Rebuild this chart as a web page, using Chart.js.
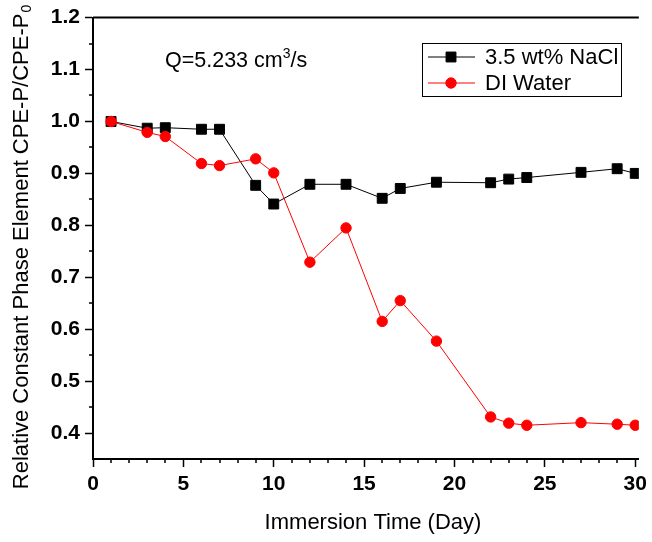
<!DOCTYPE html>
<html>
<head>
<meta charset="utf-8">
<script src="https://cdn.jsdelivr.net/npm/chart.js@4/dist/chart.umd.min.js"></script>
<style>
  html, body { margin: 0; padding: 0; background: #fff; }
  canvas { display: block; }
</style>
</head>
<body>
<canvas id="c" width="652" height="542"></canvas>
<script>
// Immersion days at which CPE-P was measured
const days = [1, 3, 4, 6, 7, 9, 10, 12, 14, 16, 17, 19, 22, 23, 24, 27, 29, 30];

// Relative CPE-P / CPE-P0 for each electrolyte
const naclValues    = [1.000, 0.987, 0.988, 0.985, 0.985, 0.877, 0.841, 0.879, 0.879, 0.852, 0.871, 0.883, 0.882, 0.889, 0.892, 0.902, 0.909, 0.900];
const diWaterValues = [1.000, 0.979, 0.971, 0.919, 0.915, 0.928, 0.901, 0.729, 0.795, 0.615, 0.655, 0.577, 0.431, 0.419, 0.415, 0.420, 0.417, 0.415];

const seriesLabels = ['3.5 wt% NaCl', 'DI Water'];

// Axis ticks
const xTicks      = [0, 5, 10, 15, 20, 25, 30];
const xMinorTicks = [1, 2, 3, 4, 6, 7, 8, 9, 11, 12, 13, 14, 16, 17, 18, 19, 21, 22, 23, 24, 26, 27, 28, 29];
const yTicks      = [0.4, 0.5, 0.6, 0.7, 0.8, 0.9, 1.0, 1.1, 1.2];
const yMinorTicks = [0.45, 0.55, 0.65, 0.75, 0.85, 0.95, 1.05, 1.15];

const xTitle = 'Immersion Time (Day)';
const yTitle = 'Relative Constant Phase Element CPE-P/CPE-P';
const yTitleSub = '0';
const noteMain = 'Q=5.233 cm';
const noteSup = '3';
const noteTail = '/s';

const FONT = "'Liberation Sans', Arial, Helvetica, sans-serif";

const toPoints = vals => days.map((d, i) => ({ x: d, y: vals[i] }));

// Top frame line, minor ticks, titles, note and boxed legend
const decorations = {
  id: 'decorations',
  afterDraw(chart) {
    const { ctx, chartArea: a, scales: { x, y } } = chart;
    ctx.save();
    ctx.strokeStyle = '#000';
    ctx.fillStyle = '#000';

    // top border line
    ctx.lineWidth = 2;
    ctx.beginPath();
    ctx.moveTo(a.left, a.top);
    ctx.lineTo(a.right, a.top);
    ctx.stroke();

    // minor ticks (outward)
    ctx.lineWidth = 1.5;
    ctx.beginPath();
    xMinorTicks.forEach(v => {
      const px = Math.round(x.getPixelForValue(v));
      ctx.moveTo(px, a.bottom);
      ctx.lineTo(px, a.bottom + 4);
    });
    yMinorTicks.forEach(v => {
      const py = Math.round(y.getPixelForValue(v));
      ctx.moveTo(a.left, py);
      ctx.lineTo(a.left - 4, py);
    });
    ctx.stroke();

    // x title
    ctx.font = `22px ${FONT}`;
    ctx.textAlign = 'center';
    ctx.textBaseline = 'alphabetic';
    ctx.fillText(xTitle, 373, 529);

    // y title with subscript, rotated
    ctx.save();
    ctx.translate(28, 247);
    ctx.rotate(-Math.PI / 2);
    ctx.textAlign = 'left';
    ctx.font = `22px ${FONT}`;
    const wMain = ctx.measureText(yTitle).width;
    ctx.font = `14px ${FONT}`;
    const wSub = ctx.measureText(yTitleSub).width;
    const start = -(wMain + wSub + 1) / 2;
    ctx.font = `22px ${FONT}`;
    ctx.fillText(yTitle, start, 0);
    ctx.font = `14px ${FONT}`;
    ctx.fillText(yTitleSub, start + wMain + 1, 3);
    ctx.restore();

    // flow-rate note
    ctx.textAlign = 'left';
    ctx.font = `21.5px ${FONT}`;
    let nx = 165;
    ctx.fillText(noteMain, nx, 67);
    nx += ctx.measureText(noteMain).width;
    ctx.font = `14px ${FONT}`;
    ctx.fillText(noteSup, nx, 58);
    nx += ctx.measureText(noteSup).width;
    ctx.font = `21.5px ${FONT}`;
    ctx.fillText(noteTail, nx, 67);

    // legend box
    ctx.lineWidth = 1;
    ctx.strokeRect(422.5, 43.5, 199, 53);
    ctx.textBaseline = 'middle';
    chart.data.datasets.forEach((ds, i) => {
      const ly = 57 + i * 26;
      ctx.strokeStyle = ds.borderColor;
      ctx.fillStyle = ds.backgroundColor;
      ctx.lineWidth = 1;
      ctx.beginPath();
      ctx.moveTo(428, ly);
      ctx.lineTo(475, ly);
      ctx.stroke();
      Chart.helpers.drawPoint(ctx, {
        pointStyle: ds.pointStyle,
        radius: ds.pointRadius,
        rotation: 0,
        borderWidth: ds.pointBorderWidth
      }, 451, ly);
      ctx.fillStyle = '#000';
      ctx.font = `22px ${FONT}`;
      ctx.fillText(ds.label, 485, ly + 1);
    });

    ctx.restore();
  }
};

new Chart(document.getElementById('c'), {
  type: 'line',
  data: {
    datasets: [
      {
        label: seriesLabels[0],
        data: toPoints(naclValues),
        borderColor: '#000000',
        backgroundColor: '#000000',
        borderWidth: 1,
        pointStyle: 'rect',
        pointRadius: 7,
        pointBorderWidth: 1,
        order: 1
      },
      {
        label: seriesLabels[1],
        data: toPoints(diWaterValues),
        borderColor: '#ff0000',
        backgroundColor: '#ff0000',
        borderWidth: 1,
        pointStyle: 'circle',
        pointRadius: 5.2,
        pointBorderWidth: 1,
        order: 0
      }
    ]
  },
  options: {
    responsive: false,
    animation: false,
    devicePixelRatio: 1,
    layout: { padding: { top: 11, right: 12, left: 0, bottom: 0 } },
    plugins: {
      legend: { display: false },
      tooltip: { enabled: false }
    },
    scales: {
      x: {
        type: 'linear',
        min: 0,
        max: 30.2,
        afterFit(s) { s.height = 83; },
        afterBuildTicks(s) { s.ticks = xTicks.map(v => ({ value: v })); },
        grid: { drawOnChartArea: false, drawTicks: true, tickLength: 8, tickWidth: 1.5, tickColor: '#000' },
        border: { display: true, color: '#000', width: 2 },
        ticks: {
          color: '#000',
          padding: 5,
          maxRotation: 0,
          autoSkip: false,
          font: { family: FONT, size: 21, weight: 'bold' }
        }
      },
      y: {
        type: 'linear',
        min: 0.35,
        max: 1.2,
        afterFit(s) { s.width = 93; },
        afterBuildTicks(s) { s.ticks = yTicks.map(v => ({ value: v })); },
        grid: { drawOnChartArea: false, drawTicks: true, tickLength: 8, tickWidth: 1.5, tickColor: '#000' },
        border: { display: true, color: '#000', width: 2 },
        ticks: {
          color: '#000',
          padding: 5,
          autoSkip: false,
          callback: v => Number(v).toFixed(1),
          font: { family: FONT, size: 21, weight: 'bold' }
        }
      }
    }
  },
  plugins: [decorations]
});
</script>
</body>
</html>
